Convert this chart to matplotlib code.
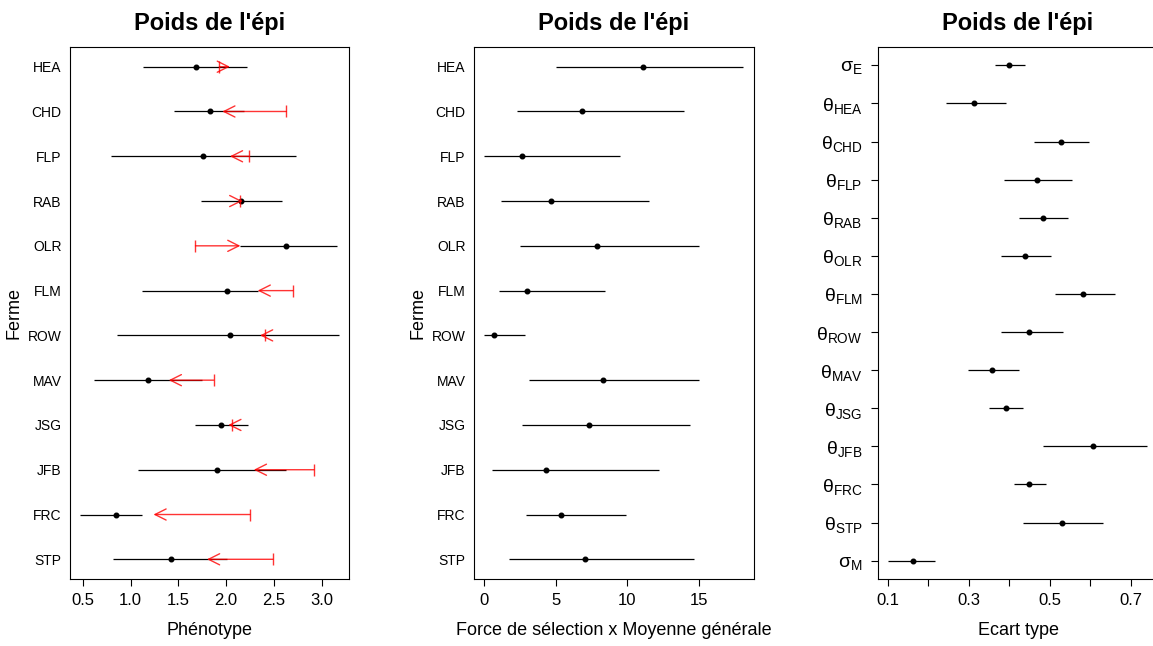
import numpy as np
import matplotlib.pyplot as plt

plt.rcParams['font.family'] = ['Liberation Sans', 'DejaVu Sans']
plt.rcParams['mathtext.fontset'] = 'custom'
plt.rcParams['mathtext.rm'] = 'Liberation Sans'
plt.rcParams['mathtext.it'] = 'Liberation Sans:italic'

farms = ["HEA", "CHD", "FLP", "RAB", "OLR", "FLM", "ROW", "MAV", "JSG", "JFB", "FRC", "STP"]

# Phenotype: point estimate and interval
pheno_mid = [1.69, 1.83, 1.76, 2.16, 2.63, 2.01, 2.04, 1.18, 1.95, 1.91, 0.85, 1.42]
pheno_lo = [1.13, 1.45, 0.80, 1.74, 2.15, 1.12, 0.86, 0.62, 1.68, 1.08, 0.47, 0.82]
pheno_hi = [2.22, 2.19, 2.73, 2.59, 3.16, 2.33, 3.18, 1.75, 2.23, 2.63, 1.12, 2.01]
# red arrows: start (bar) -> end (arrow head)
arrow_from = [1.93, 2.63, 2.24, 2.15, 1.68, 2.70, 2.41, 1.87, 2.065, 2.92, 2.25, 2.49]
arrow_to = [2.04, 1.96, 2.04, 2.17, 2.15, 2.33, 2.355, 1.40, 2.023, 2.29, 1.24, 1.80]

# Selection strength x overall mean
sel_mid = [11.07, 6.85, 2.61, 4.66, 7.85, 2.96, 0.68, 8.32, 7.32, 4.29, 5.38, 7.04]
sel_lo = [5.01, 2.26, 0.0, 1.17, 2.49, 1.00, 0.0, 3.15, 2.66, 0.56, 2.91, 1.75]
sel_hi = [18.10, 13.98, 9.48, 11.49, 14.98, 8.41, 2.82, 15.0, 14.37, 12.19, 9.88, 14.65]

# Standard deviations
sd_labels = [r'$\mathrm{\sigma_{E}}$'] + [r'$\mathrm{\theta_{%s}}$' % f for f in farms] + [r'$\mathrm{\sigma_{M}}$']
sd_mid = [0.400, 0.314, 0.527, 0.468, 0.483, 0.439, 0.583, 0.448, 0.357, 0.392, 0.606, 0.449, 0.530, 0.164]
sd_lo = [0.365, 0.244, 0.462, 0.388, 0.423, 0.379, 0.513, 0.379, 0.298, 0.351, 0.484, 0.411, 0.434, 0.101]
sd_hi = [0.439, 0.392, 0.596, 0.556, 0.544, 0.504, 0.661, 0.532, 0.423, 0.434, 0.741, 0.490, 0.632, 0.218]

W, H = 1153, 646
fig = plt.figure(figsize=(W / 100, H / 100), dpi=100)


def make_ax(left, right, top=47, bottom=579):
    return fig.add_axes([left / W, (H - bottom) / H, (right - left) / W, (bottom - top) / H])


def style(ax):
    for s in ax.spines.values():
        s.set_linewidth(0.8)
    ax.set_title("Poids de l'épi", fontsize=17, fontweight='bold', pad=12)
    ax.tick_params(axis='x', labelsize=12, length=5, width=0.8, pad=5)


# Panel 1
ax1 = make_ax(70, 349)
y = np.arange(len(farms))[::-1] + 1
ax1.hlines(y, pheno_lo, pheno_hi, color='black', lw=0.9)
ax1.plot(pheno_mid, y, 'o', color='black', ms=3.3)
for a, b, yy in zip(arrow_from, arrow_to, y):
    ax1.annotate('', xy=(b, yy), xytext=(a, yy),
                 arrowprops=dict(arrowstyle='->,head_length=0.8,head_width=0.4', color='red',
                                 lw=1.0, alpha=0.8, shrinkA=0, shrinkB=0))
    ax1.plot([a], [yy], marker='|', color='red', ms=9, mew=1.0, alpha=0.8)
ax1.set_xlim(0.367, 3.286)
ax1.set_ylim(0.56, 12.44)
ax1.set_xticks([0.5, 1.0, 1.5, 2.0, 2.5, 3.0])
ax1.set_yticks(y)
ax1.set_yticklabels(farms)
ax1.tick_params(axis='y', length=0, labelsize=10, pad=6)
ax1.set_xlabel('Phénotype', fontsize=13, labelpad=10)
ax1.set_ylabel('Ferme', fontsize=13, labelpad=4)
style(ax1)

# Panel 2
ax2 = make_ax(474, 754)
ax2.hlines(y, sel_lo, sel_hi, color='black', lw=0.9)
ax2.plot(sel_mid, y, 'o', color='black', ms=3.3)
ax2.set_xlim(-0.72, 18.84)
ax2.set_ylim(0.56, 12.44)
ax2.set_xticks([0, 5, 10, 15])
ax2.set_yticks(y)
ax2.set_yticklabels(farms)
ax2.tick_params(axis='y', length=0, labelsize=10, pad=6)
ax2.set_xlabel('Force de sélection x Moyenne générale', fontsize=13, labelpad=10)
ax2.set_ylabel('Ferme', fontsize=13, labelpad=4)
style(ax2)

# Panel 3
ax3 = make_ax(878, 1158)
y3 = np.arange(len(sd_labels))[::-1] + 1
ax3.hlines(y3, sd_lo, sd_hi, color='black', lw=0.9)
ax3.plot(sd_mid, y3, 'o', color='black', ms=3.3)
ax3.set_xlim(0.0765, 0.767)
ax3.set_ylim(0.52, 14.48)
ax3.set_xticks([0.1, 0.2, 0.3, 0.4, 0.5, 0.6, 0.7])
ax3.set_xticklabels(['0.1', '', '0.3', '', '0.5', '', '0.7'])
ax3.set_yticks(y3)
ax3.set_yticklabels(sd_labels)
ax3.tick_params(axis='y', length=5, width=0.8, labelsize=14, pad=6)
ax3.set_xlabel('Ecart type', fontsize=13, labelpad=10)
style(ax3)

fig.savefig('out.png', dpi=100)
